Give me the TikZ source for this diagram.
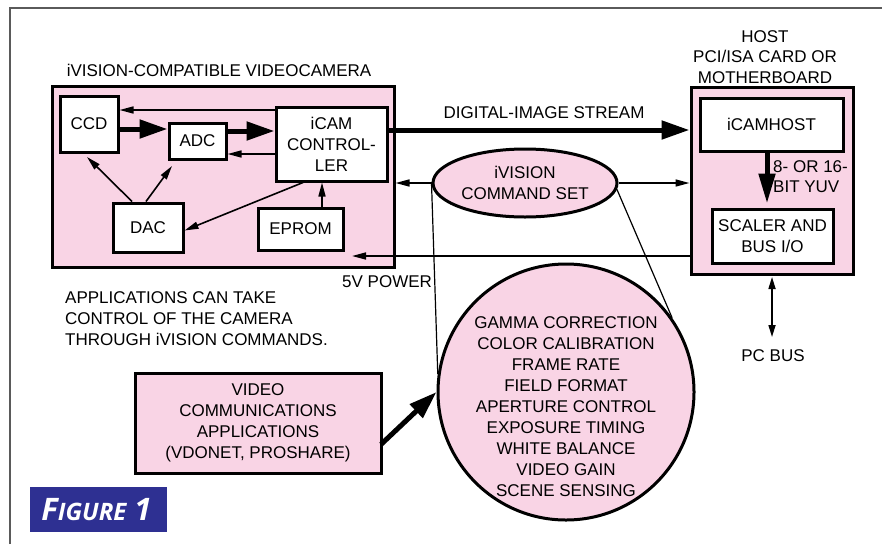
\documentclass[tikz,border=0pt]{standalone}
\usepackage{fontspec}
\setmainfont{Liberation Sans}
\newfontfamily\figfont{Open Sans}
\usetikzlibrary{arrows.meta,shapes.geometric}
\definecolor{pinkfill}{RGB}{249,212,229}
\definecolor{figblue}{RGB}{46,48,146}
\definecolor{framegray}{RGB}{90,90,90}
\begin{document}
\begin{tikzpicture}[x=1pt,y=-1pt,
  every node/.style={font=\fontsize{17}{21}\selectfont, inner sep=0pt, align=center},
  whitebox/.style={draw, line width=3pt, fill=white},
  pinkbox/.style={draw, line width=3pt, fill=pinkfill},
  thinarr/.style={line width=1.6pt, -{Triangle[length=14pt,width=7pt]}},
  thickarr/.style={line width=5pt, -{Triangle[length=28pt,width=18pt]}},
  lbl/.style={anchor=base}
]
\useasboundingbox (0,0) rectangle (882,544);
% frame
\draw[framegray, line width=1.5pt] (10,544) -- (10,8) -- (882,8);

% camera
\node[lbl] (camtitle) at (219,76) {iVISION-COMPATIBLE VIDEOCAMERA};
\node[pinkbox, minimum width=342pt, minimum height=181pt] (cam) at (223,176.5) {};
\node[whitebox, minimum width=58pt, minimum height=56pt] (ccd) at (89,124) {CCD};
\node[whitebox, minimum width=57pt, minimum height=36pt] (adc) at (197.5,141) {ADC};
\node[whitebox, minimum width=111pt, minimum height=74pt] (ctrl) at (331.5,144) {iCAM\\CONTROL-\\LER};
\node[whitebox, minimum width=70pt, minimum height=49pt] (dac) at (148,227.5) {DAC};
\node[whitebox, minimum width=85pt, minimum height=42pt] (eprom) at (300.5,229) {EPROM};

\draw[thickarr] (ccd.east |- 0,129) -- (adc.west |- 0,129);
\draw[thickarr] (adc.east |- 0,131) -- (ctrl.west |- 0,131);
\draw[thinarr] (ctrl.west |- 0,110) -- (ccd.east |- 0,110);
\draw[thinarr] (ctrl.west |- 0,154) -- (adc.east |- 0,154);
\draw[thinarr] ([xshift=-16pt]dac.north) -- (87,157);
\draw[thinarr] ([xshift=-2pt]dac.north) -- (172,166);
\draw[thinarr] ([xshift=-28.5pt]ctrl.south) -- ([yshift=-3pt]dac.east);
\draw[thinarr] ([xshift=21.5pt]eprom.north) -- ([xshift=-9.5pt]ctrl.south);

% host
\node[lbl] (hostlbl) at (765,42) {HOST};
\node[lbl] (hostlbl2) at (765,62.5) {PCI/ISA CARD OR};
\node[lbl] (hostlbl3) at (765,83) {MOTHERBOARD};
\node[pinkbox, minimum width=162pt, minimum height=187pt] (host) at (772,180.5) {};
\node[whitebox, minimum width=143pt, minimum height=53pt] (icamhost) at (771.5,124.5) {iCAMHOST};
\node[whitebox, minimum width=121pt, minimum height=54pt] (scaler) at (772.5,236) {SCALER AND\\BUS I/O};
\draw[line width=5pt, -{Triangle[length=30pt,width=16pt]}] ([xshift=-4.5pt]icamhost.south) -- ([xshift=-5.5pt,yshift=4pt]scaler.north);
\node[anchor=base west, align=left, font=\fontsize{17}{20}\selectfont] (yuv) at (773,192) {8- OR 16-\\BIT YUV};

% digital image stream
\draw[thickarr] (ctrl.east |- 0,130) -- (host.west |- 0,130);
\node[lbl] (dis) at (544,118) {DIGITAL-IMAGE STREAM};

% 5V power
\coordinate (pwrend) at (352,256);
\draw[thinarr] (host.west |- 0,256) -- (pwrend);
\node[anchor=base west] (pwr) at (342,287) {5V POWER};

% PC bus
\node[lbl] (pcbus) at (773,361) {PC BUS};
\draw[line width=1.6pt, {Triangle[length=12pt,width=7pt]}-{Triangle[length=12pt,width=7pt]}] (host.south |- 0,277) -- (host.south |- 0,337);

% ellipse and circle
\node[ellipse, draw, line width=3pt, fill=pinkfill, minimum width=184pt, minimum height=68pt] (ell) at (525,183) {iVISION\\COMMAND SET};
\node[circle, draw, line width=3pt, fill=pinkfill, minimum size=256pt] (circ) at (566,392) {};
\draw[line width=1.2pt] (ell.west) -- (circ.172);
\draw[line width=1.2pt] (ell.-4) -- (circ.35);
\node (circtext) at (566,407) {GAMMA CORRECTION\\COLOR CALIBRATION\\FRAME RATE\\FIELD FORMAT\\APERTURE CONTROL\\EXPOSURE TIMING\\WHITE BALANCE\\VIDEO GAIN\\SCENE SENSING};

\draw[thinarr] (ell.west) -- (cam.east |- ell.west);
\draw[thinarr] (ell.east) -- (host.west |- ell.east);

% applications text
\node[anchor=base west, align=left] (apptext) at (65,345) {APPLICATIONS CAN TAKE\\CONTROL OF THE CAMERA\\THROUGH iVISION COMMANDS.};

% video comm box
\node[pinkbox, minimum width=246pt, minimum height=100pt] (video) at (258,423) {VIDEO\\COMMUNICATIONS\\APPLICATIONS\\(VDONET, PROSHARE)};
\draw[thickarr, shorten <=-2pt] ([yshift=-20pt]video.east) -- (circ.west);

% figure label
\node[fill=figblue, minimum width=137pt, minimum height=45pt] (fig) at (98.5,509.5) {};
\node[text=white, font=\figfont\bfseries\itshape] (figtext) at (96.5,510) {{\fontsize{31}{31}\selectfont F}{\fontsize{24}{24}\selectfont IGURE}\hspace{8pt}{\fontsize{31}{31}\selectfont 1}};
\end{tikzpicture}
\end{document}
